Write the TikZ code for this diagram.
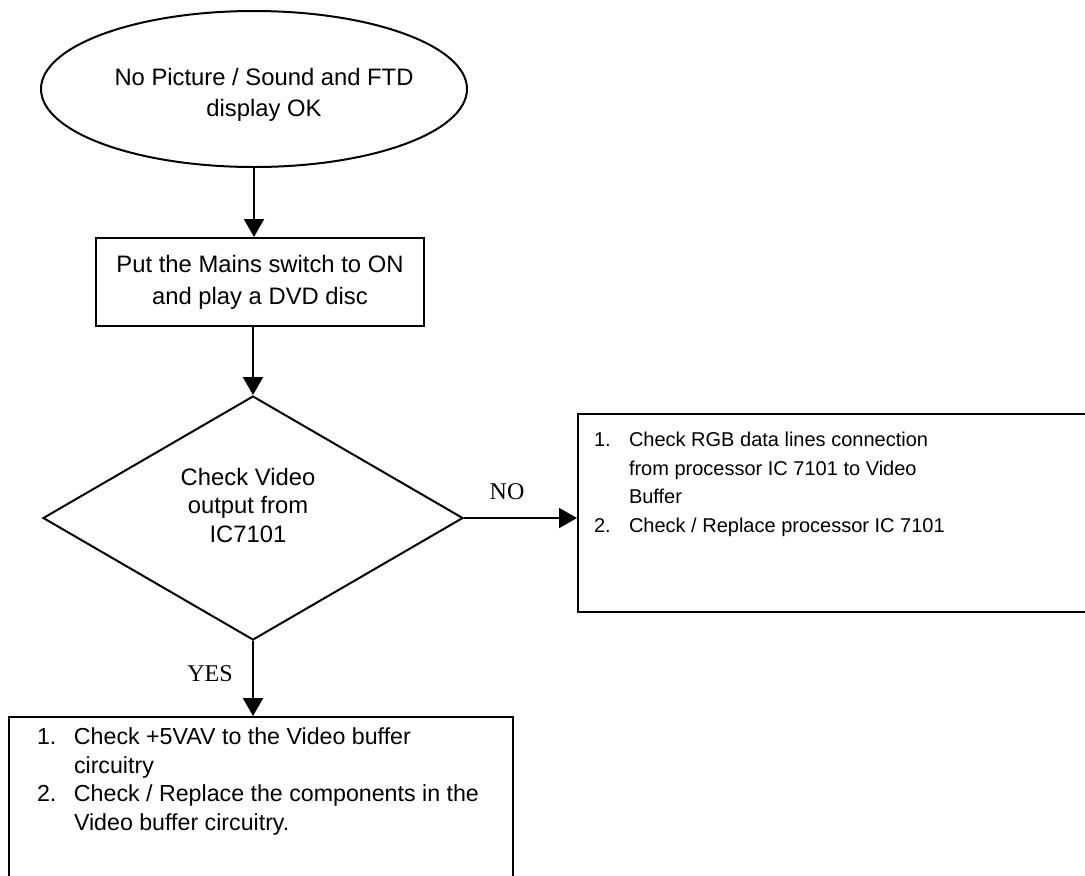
\documentclass[tikz,border=0pt]{standalone}
\usepackage{fontspec}
\setmainfont{Liberation Sans}
\newfontfamily\answerfont{Liberation Serif}
\usetikzlibrary{shapes.geometric, arrows.meta}

\begin{document}
\begin{tikzpicture}[x=0.5pt, y=-0.5pt, line width=1pt,
		>={Triangle[length=9pt,width=10pt]},
		startell/.style={draw, ellipse, minimum width=213pt, minimum height=78pt, inner sep=0pt},
		stepbox/.style={draw, rectangle, inner sep=0pt},
		decision/.style={draw, diamond, minimum width=210pt, minimum height=122pt, inner sep=0pt},
		answer/.style={font=\answerfont\fontsize{12}{14}\selectfont, inner sep=0pt},
		midtext/.style={font=\fontsize{11.9}{15.5}\selectfont, align=center, inner sep=0pt}]
		\useasboundingbox (0,0) rectangle (1085,875);
		\clip (0,0) rectangle (1085,875);
		\node[startell] (start) at (254,89) {}; %start
		\node[midtext] (starttext) at (264,95) {No Picture / Sound and FTD\\display OK};
		\node[stepbox, minimum width=164pt, minimum height=44pt, font=\fontsize{11.9}{16}\selectfont, align=center] (mains) at (260,282) {Put the Mains switch to ON\\and play a DVD disc};
		\node[decision] (check) at (253,518) {}; %decision
		\node[midtext, font=\fontsize{11.9}{14.25}\selectfont] (checktext) at (248,505) {Check Video\\output from\\IC7101};
		\node[stepbox, anchor=north west, minimum width=280pt, minimum height=99pt] (rgbbox) at (577,413) {}; %NO
		\node[anchor=north west, inner sep=0pt, font=\fontsize{10}{14.2}\selectfont] (rgblist) at (593,426) {\begin{tabular}{@{}p{17.5pt}@{}l@{}}1.&Check RGB data lines connection\\&from processor IC 7101 to Video\\&Buffer\\2.&Check / Replace processor IC 7101\end{tabular}};
		\node[stepbox, anchor=north west, minimum width=252pt, minimum height=100pt] (buffbox) at (8,716) {}; %YES
		\node[anchor=north west, inner sep=0pt, font=\fontsize{11.6}{14.2}\selectfont] (bufflist) at (36,724) {\begin{tabular}{@{}p{18.5pt}@{}l@{}}1.&Check +5VAV to the Video buffer\\&circuitry\\2.&Check / Replace the components in the\\&Video buffer circuitry.\end{tabular}};
		\node[answer] (no) at (507,492) {NO};
		\node[answer] (yes) at (210,674) {YES};
		\draw[->] (start.south) -- (start.south |- mains.north);
		\draw[->] (check.north |- mains.south) -- (check.north);
		\draw[->] (check.east) -- (check.east -| rgbbox.west);
		\draw[->] (check.south) -- (check.south |- buffbox.north);
	\end{tikzpicture}
\end{document}
